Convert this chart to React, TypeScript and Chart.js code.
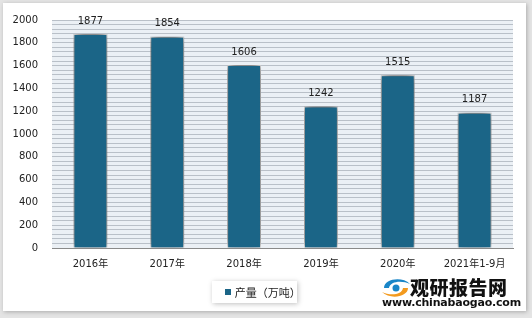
import React, { useEffect, useRef } from "react";
import { Chart, registerables } from "chart.js";

Chart.register(...registerables);

const categories = ["2016年", "2017年", "2018年", "2019年", "2020年", "2021年1-9月"];
const production = [1877, 1854, 1606, 1242, 1515, 1187];
const seriesName = "产量（万吨）";
const yMax = 2000;
const yLabelStep = 200;
const stripeStep = 40;

const FONT = "'DejaVu Sans', 'Noto Sans CJK SC', sans-serif";
const BAR = "#1b6587";

export default function App() {
  const ref = useRef<HTMLCanvasElement | null>(null);

  useEffect(() => {
    document.body.style.margin = "0";
    const canvas = ref.current;
    if (!canvas) return;

    const bgPlugin = {
      id: "plotBg",
      beforeDraw(chart: any) {
        const { ctx, chartArea: a } = chart;
        ctx.save();
        ctx.fillStyle = "#ebf0f5";
        ctx.fillRect(a.left, a.top, a.right - a.left, a.bottom - a.top);
        ctx.restore();
      },
    };

    const shadowPlugin = {
      id: "barShadow",
      beforeDatasetDraw(chart: any) {
        const ctx = chart.ctx;
        ctx.save();
        ctx.shadowColor = "rgba(0,0,0,0.85)";
        ctx.shadowBlur = 10;
        ctx.shadowOffsetX = 0;
        ctx.shadowOffsetY = -1;
      },
      afterDatasetDraw(chart: any) {
        chart.ctx.restore();
      },
    };

    const labelPlugin = {
      id: "valueLabels",
      afterDatasetsDraw(chart: any) {
        const ctx = chart.ctx;
        const meta = chart.getDatasetMeta(0);
        ctx.save();
        ctx.font = `10px ${FONT}`;
        ctx.fillStyle = "#222";
        ctx.textAlign = "center";
        ctx.textBaseline = "middle";
        meta.data.forEach((el: any, i: number) => {
          ctx.fillText(String(production[i]), el.x, el.y - 13);
        });
        ctx.restore();
      },
    };

    const chart = new Chart(canvas, {
      type: "bar",
      data: {
        labels: categories,
        datasets: [
          {
            label: seriesName,
            data: production,
            backgroundColor: BAR,
            borderColor: "#ffffff",
            borderWidth: 1,
            barPercentage: 0.88,
            categoryPercentage: 0.5,
          },
        ],
      },
      options: {
        animation: false,
        responsive: false,
        maintainAspectRatio: false,
        layout: { padding: { left: 0, right: 19, top: 19, bottom: 0 } },
        plugins: {
          legend: { display: false },
          tooltip: { enabled: false },
        },
        scales: {
          x: {
            grid: { display: false, drawTicks: false },
            border: { display: true, color: "#8a8a8a", width: 1 },
            ticks: {
              font: { family: FONT, size: 10 },
              color: "#222",
              padding: 10,
              maxRotation: 0,
              autoSkip: false,
            },
            afterFit(scale: any) {
              scale.height = 70;
            },
          },
          y: {
            min: 0,
            max: yMax,
            grid: { color: "#b9c0c8", lineWidth: 1, drawTicks: false },
            border: { display: false },
            ticks: {
              stepSize: stripeStep,
              autoSkip: false,
              font: { family: FONT, size: 10 },
              color: "#222",
              padding: 14,
              callback: (v: any) => (Number(v) % yLabelStep === 0 ? String(v) : ""),
            },
            afterFit(scale: any) {
              scale.width = 52;
            },
          },
        },
      },
      plugins: [bgPlugin, shadowPlugin, labelPlugin],
    });

    return () => chart.destroy();
  }, []);

  return (
    <div
      style={{
        position: "fixed",
        left: 0,
        top: 0,
        width: 532,
        height: 318,
        background: "#e4e4e4",
        overflow: "hidden",
        fontFamily: FONT,
      }}
    >
      <div
        style={{
          position: "absolute",
          left: 3,
          top: 3,
          width: 523,
          height: 308,
          background: "#ffffff",
          boxShadow: "1px 1px 4px rgba(0,0,0,0.25)",
        }}
      />
      <canvas
        ref={ref}
        width={532}
        height={318}
        style={{ position: "absolute", left: 0, top: 0, width: 532, height: 318 }}
      />
      <div
        style={{
          position: "absolute",
          left: 212,
          top: 281,
          width: 85,
          height: 22,
          background: "#fff",
          boxShadow: "1px 1px 5px rgba(0,0,0,0.25)",
          display: "flex",
          alignItems: "center",
          fontSize: 11,
          color: "#222",
        }}
      >
        <span
          style={{
            display: "inline-block",
            width: 6,
            height: 6,
            background: BAR,
            marginLeft: 13,
            marginRight: 4,
          }}
        />
        <span>{seriesName}</span>
      </div>
      <div style={{ position: "absolute", left: 380, top: 275, width: 140, height: 36 }}>
        <svg width="32" height="24" viewBox="0 0 32 24" style={{ position: "absolute", left: 0, top: 1 }}>
          <path d="M4 12 C4 3, 22 0, 30 8 C22 4, 10 5, 9 12 Z" fill="#1a86c8" />
          <path d="M28 12 C28 21, 10 24, 2 16 C10 20, 22 19, 23 12 Z" fill="#f39a1e" />
          <circle cx="16" cy="12" r="3.5" fill="#1a86c8" />
        </svg>
        <div
          style={{
            position: "absolute",
            left: 30,
            top: 0,
            fontSize: 19,
            fontWeight: 900,
            color: "#111",
            letterSpacing: 0.5,
            fontFamily: "'Noto Sans CJK SC', sans-serif",
            lineHeight: "24px",
          }}
        >
          观研报告网
        </div>
        <div
          style={{
            position: "absolute",
            left: 2,
            top: 22,
            fontSize: 11,
            fontWeight: "bold",
            color: "#111",
            fontFamily: "'DejaVu Sans', sans-serif",
            lineHeight: "12px",
            letterSpacing: -0.2,
          }}
        >
          www.chinabaogao.com
        </div>
      </div>
    </div>
  );
}
